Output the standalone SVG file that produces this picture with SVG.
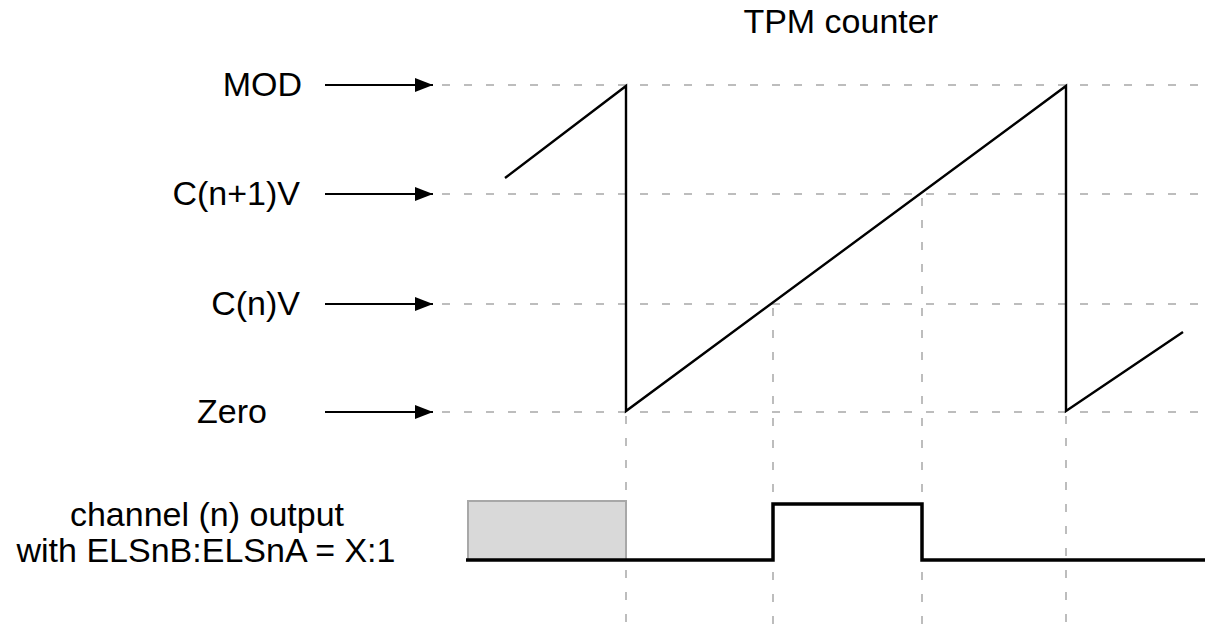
<svg xmlns="http://www.w3.org/2000/svg" width="1205" height="630" viewBox="0 0 1205 630">
  <style>
    .lbl { font-family: "Liberation Sans", Arial, sans-serif; font-size: 34px; fill: #000; }
    .grid { stroke: #bdbdbd; stroke-width: 2; stroke-dasharray: 8 14; fill: none; }
    .arrow { stroke: #000; stroke-width: 2; fill: none; }
    .wave { stroke: #000; stroke-width: 2.4; fill: none; stroke-linejoin: miter; }
    .sig { stroke: #000; stroke-width: 3.5; fill: none; stroke-linejoin: miter; }
  </style>
  <defs>
    <marker id="head" markerWidth="18" markerHeight="14" refX="18" refY="7" orient="auto" markerUnits="userSpaceOnUse">
      <path d="M0,0 L18,7 L0,14 Z" fill="#000"/>
    </marker>
  </defs>
  <rect width="1205" height="630" fill="#fff"/>

  <!-- title -->
  <text class="lbl" x="938" y="33" text-anchor="end">TPM counter</text>

  <!-- level labels -->
  <g id="mod"><text class="lbl" x="302" y="96" text-anchor="end">MOD</text></g>
  <g id="cn1v"><text class="lbl" x="300" y="205" text-anchor="end">C(n+1)V</text></g>
  <g id="cnv"><text class="lbl" x="300" y="315" text-anchor="end">C(n)V</text></g>
  <g id="zero"><text class="lbl" x="197" y="423">Zero</text></g>
  <g id="out-label">
    <text class="lbl" x="207" y="526" text-anchor="middle">channel (n) output</text>
    <text class="lbl" x="206" y="562" text-anchor="middle">with ELSnB:ELSnA = X:1</text>
  </g>

  <g id="connectors">
    <!-- reference levels -->
    <line class="grid" x1="442" y1="85" x2="1205" y2="85"/>
    <line class="grid" x1="442" y1="194" x2="1205" y2="194"/>
    <line class="grid" x1="442" y1="304" x2="1205" y2="304"/>
    <line class="grid" x1="442" y1="412" x2="1205" y2="412"/>
    <!-- event markers -->
    <line class="grid" x1="626" y1="416" x2="626" y2="630"/>
    <line class="grid" x1="773" y1="308" x2="773" y2="630"/>
    <line class="grid" x1="922" y1="198" x2="922" y2="630"/>
    <line class="grid" x1="1066" y1="416" x2="1066" y2="630"/>
    <!-- level arrows -->
    <line class="arrow" x1="325" y1="85" x2="433" y2="85" marker-end="url(#head)"/>
    <line class="arrow" x1="325" y1="194" x2="433" y2="194" marker-end="url(#head)"/>
    <line class="arrow" x1="325" y1="304" x2="433" y2="304" marker-end="url(#head)"/>
    <line class="arrow" x1="325" y1="412" x2="433" y2="412" marker-end="url(#head)"/>
  </g>

  <!-- counter sawtooth -->
  <g id="counter">
    <polyline class="wave" points="505,178 626,86 626,411 1066,86 1066,411 1183,332"/>
  </g>

  <!-- channel output -->
  <g id="output">
    <rect x="468" y="501" width="158" height="59" fill="#d9d9d9" stroke="#a8a8a8" stroke-width="2"/>
    <polyline class="sig" points="466,560 773,560 773,504 922,504 922,560 1205,560"/>
  </g>
</svg>
